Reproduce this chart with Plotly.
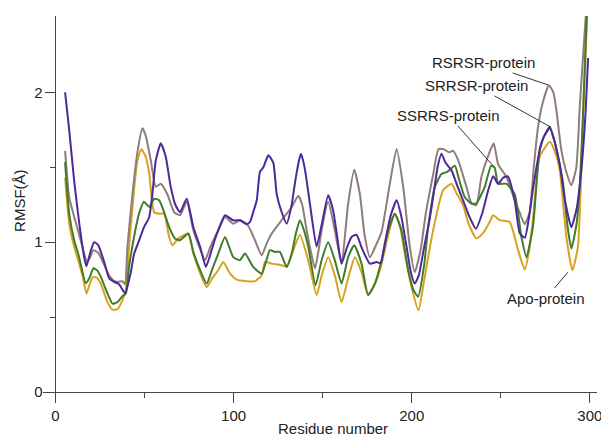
import plotly.graph_objects as go

# ---- data (residue number, RMSF in Angstrom) ----
res_apo = [5.4, 7.7, 10.5, 13.3, 15.5, 17.4, 19.5, 21.3, 23.5, 25.4, 29.2, 32, 34.8, 37.6, 39.5, 41.3,
           44.1, 46, 48.2, 50.7, 52.6, 55.4, 58.2, 61, 63.8, 65.7, 68.5, 71, 74.6, 77.4, 81, 84.9, 88,
           91.4, 94.2, 98, 101.7, 107.3, 112, 115.8, 117.6, 121.4, 127, 129.8, 133, 137.2, 141.9, 146.6,
           149.5, 153.1, 156.8, 160.6, 164.3, 168.1, 171.8, 175.5, 179.3, 183.1, 186.8, 190.5, 193.5,
           196.1, 199.9, 203.8, 207, 212, 217.6, 222.3, 225, 228.8, 232, 236.3, 240, 243.5, 245.7, 249.4,
           255, 259.7, 263.4, 266, 268, 271.8, 277.5, 280.5, 283.1, 286.8, 290.2, 293.3, 296.1, 298.8]
rmsf_apo = [1.43, 1.124, 0.97, 0.857, 0.76, 0.658, 0.73, 0.77, 0.76, 0.724, 0.60, 0.55, 0.553, 0.613, 0.68, 0.97,
            1.347, 1.547, 1.62, 1.57, 1.46, 1.20, 1.19, 1.19, 1.035, 0.98, 1.02, 1.04, 1.058, 0.924, 0.80, 0.70, 0.76,
            0.813, 0.868, 0.79, 0.75, 0.74, 0.74, 0.78, 0.868, 0.857, 0.846, 0.835, 0.93, 1.05, 0.88, 0.647,
            0.78, 0.90, 0.78, 0.60, 0.76, 0.90, 0.80, 0.647, 0.72, 0.857, 1.05, 1.19, 1.10,
            0.924, 0.70, 0.545, 0.75, 1.08, 1.347, 1.39, 1.33, 1.247, 1.12, 1.024, 1.06, 1.13, 1.18, 1.147,
            1.135, 0.947, 0.818, 0.95, 1.147, 1.57, 1.67, 1.60, 1.48, 1.035, 0.813, 0.97, 1.81, 2.6]

res_rsrsr = [5.4, 7.7, 10.5, 13.3, 16, 17.6, 19.5, 21.3, 24, 27.3, 30, 32.5, 35, 37.5, 39, 40.4, 43.2, 46,
             48.8, 50.7, 53.5, 56.3, 59.1, 62.8, 66.6, 69.9, 73.7, 77.4, 81, 84, 87, 91.4, 95.2, 99.8,
             103.5, 107.3, 109.5, 112, 115.8, 118.5, 121.4, 127, 132.6, 136.3, 138.5, 141, 143.5, 145.7,
             147.5, 149.4, 153.1, 156.8, 160.6, 164.3, 167.7, 170.9, 173.5, 176.5, 180.3, 183.1, 187.7,
             191.5, 195.2, 198.9, 201.7, 205, 208, 212, 215, 218, 221, 223.2, 226, 230.7, 233.5, 236.3, 239.1,
             243, 246, 248.5, 253.2, 257.8, 260.5, 263.4, 266.2, 268.5, 270.9, 273.5, 277, 279.5, 281.2,
             284, 286.5, 289.6, 292.4, 294.3, 296.5, 298.5]
rmsf_rsrsr = [1.61, 1.30, 1.17, 1.05, 0.93, 0.87, 0.90, 0.947, 0.93, 0.85, 0.78, 0.745, 0.735, 0.74, 0.72, 0.97, 1.32, 1.60,
              1.76, 1.71, 1.547, 1.37, 1.39, 1.32, 1.20, 1.18, 1.27, 1.08, 0.96, 0.88, 0.97, 1.08, 1.168, 1.124,
              1.146, 1.124, 1.08, 1.013, 0.913, 0.99, 1.058, 1.147, 1.235, 1.31, 1.25, 1.08, 0.93, 0.824,
              0.93, 1.08, 1.27, 1.08, 0.857, 1.257, 1.484, 1.32, 1.05, 0.90, 0.99, 1.07, 1.39,
              1.623, 1.37, 0.97, 0.80, 0.95, 1.20, 1.45, 1.62, 1.62, 1.60, 1.61, 1.55, 1.37, 1.26, 1.247, 1.435,
              1.58, 1.66, 1.52, 1.435, 1.28, 1.20, 1.12, 1.20, 1.50, 1.77, 1.93, 2.047, 2.00, 1.88,
              1.613, 1.48, 1.38, 1.50, 1.90, 2.3, 2.65]

res_srrsr = [5.4, 7.7, 10.5, 13.3, 16.1, 17.4, 19.5, 21.7, 24, 27.3, 30.1, 32.9, 35.7, 38.5, 39.3, 42.3,
             44.1, 46.9, 49.7, 52.6, 54.4, 56.3, 59.1, 61.9, 64.7, 67.3, 69.9, 73.7, 77.4, 81.2, 84.4, 86.5,
             89, 91.4, 95.2, 99.8, 103.5, 107.3, 109.2, 111, 113, 114.8, 116.7, 119.5, 122.3, 124.2, 127,
             129.8, 132.6, 134.5, 136.8, 137.8, 139.5, 141, 143.5, 146.6, 149.5, 153.1, 155.9, 158, 160.6,
             163.5, 166.2, 169, 172, 176.5, 180.3, 182.5, 185, 188, 191.5, 194, 197.1, 199.5, 201.7, 204,
             207, 210, 212, 214.5, 216.7, 219, 222.3, 225.5, 228.8, 232, 236, 239.5, 243, 245.7, 248.5,
             251.3, 254, 257.8, 260.6, 263.5, 266, 268, 271.8, 274, 277.5, 280, 283.1, 286, 289.6, 292.5,
             295.2, 297.5, 299]
rmsf_srrsr = [2.00, 1.75, 1.41, 1.13, 0.90, 0.84, 0.93, 1.00, 0.98, 0.87, 0.76, 0.735, 0.72, 0.667, 0.66, 0.80,
              0.92, 1.01, 1.10, 1.167, 1.32, 1.545, 1.66, 1.57, 1.37, 1.25, 1.20, 1.29, 1.10, 0.97, 0.835, 0.90,
              1.00, 1.08, 1.18, 1.146, 1.146, 1.12, 1.135, 1.20, 1.28, 1.47, 1.50, 1.58, 1.53, 1.32, 1.20,
              1.124, 1.25, 1.40, 1.55, 1.59, 1.52, 1.413, 1.20, 0.97, 1.12, 1.313, 1.21, 1.05, 0.857,
              0.96, 1.035, 1.05, 0.96, 0.857, 0.868, 0.86, 1.00, 1.17, 1.28, 1.18, 0.97, 0.80, 0.724, 0.78,
              0.97, 1.15, 1.30, 1.50, 1.59, 1.53, 1.48, 1.38, 1.28, 1.18, 1.09, 1.19, 1.35, 1.44, 1.39,
              1.43, 1.44, 1.28, 1.06, 1.03, 1.18, 1.35, 1.61, 1.70, 1.77, 1.68, 1.52, 1.28, 1.10, 1.22,
              1.48, 1.85, 2.23]

res_ssrrs = [5.4, 7.7, 10.5, 13.3, 17, 19, 21.3, 23.5, 25.4, 29.2, 32, 34.8, 37.6, 39.5, 41.3, 44.1, 46.9,
             49.7, 52.6, 55.4, 58.2, 61, 63.8, 67.1, 69.9, 74.6, 77.4, 81, 84.9, 88, 91.4, 95.2, 99.8, 103.5,
             106.4, 111, 115.8, 120.4, 123.2, 126, 129.8, 132.6, 135, 137.2, 139.5, 141.9, 146, 149.4, 153.1,
             156.8, 160.6, 164.3, 167.7, 171.8, 175.5, 179.3, 183.1, 186.8, 190.5, 194.2, 198, 201, 203.6,
             207, 209.2, 213, 216.7, 220, 224.2, 226.5, 229.8, 233.5, 236.3, 241, 244.5, 246.5, 248.5, 253.2,
             257.8, 261.6, 264.4, 268.1, 271.8, 274, 277.5, 280, 282.5, 284.9, 287.5, 289.6, 292.5, 294.3,
             296, 298.5]
rmsf_ssrrs = [1.535, 1.19, 1.013, 0.90, 0.727, 0.76, 0.826, 0.81, 0.77, 0.658, 0.59, 0.60, 0.64, 0.658, 0.835, 1.035, 1.19,
              1.27, 1.235, 1.29, 1.28, 1.20, 1.10, 1.024, 1.013, 1.058, 0.935, 0.82, 0.724, 0.82, 0.924, 1.035, 0.90, 0.88,
              0.924, 0.835, 0.79, 0.947, 0.935, 0.935, 0.835, 0.924, 1.06, 1.147, 1.08, 0.97, 0.713, 0.88, 1.00,
              0.88, 0.724, 0.90, 0.98, 0.857, 0.647, 0.724, 0.88, 1.08, 1.19, 1.08, 0.813, 0.68, 0.636,
              0.85, 1.10, 1.37, 1.456, 1.47, 1.51, 1.42, 1.30, 1.258, 1.26, 1.37, 1.51, 1.50, 1.39, 1.39,
              1.32, 1.033, 0.90, 1.11, 1.62, 1.70, 1.76, 1.68, 1.55, 1.40, 1.10, 0.957, 1.12, 1.37,
              1.81, 2.6]

series_names = ["Apo-protein", "RSRSR-protein", "SSRRS-protein", "SRRSR-protein"]
series_colors = ["#D9A21E", "#8E7D7B", "#3F7C2C", "#4C2A99"]

x_ticks = [0, 100, 200, 300]
x_minor = [50, 150, 250]
y_ticks = [0, 1, 2]
y_minor = [0.5, 1.5]
x_title = "Residue number"
y_title = "RMSF(Å)"

# label -> point (residue, RMSF) it points to, and pixel offset of the text
labels = [
    ("RSRSR-protein", 276.5, 2.05, -65, -22),
    ("SRRSR-protein", 277.8, 1.77, -74, -41),
    ("SSRRS-protein", 245.6, 1.51, -44, -50),
    ("Apo-protein", 287.7, 0.80, -22, 26),
]

FONT = "Liberation Sans, Arial, Helvetica, sans-serif"
AX = "#444444"

fig = go.Figure()
for name, xs, ys, col in [
    (series_names[0], res_apo, rmsf_apo, series_colors[0]),
    (series_names[1], res_rsrsr, rmsf_rsrsr, series_colors[1]),
    (series_names[2], res_ssrrs, rmsf_ssrrs, series_colors[2]),
    (series_names[3], res_srrsr, rmsf_srrsr, series_colors[3]),
]:
    fig.add_trace(go.Scatter(x=xs, y=ys, mode="lines", name=name,
                             line=dict(color=col, width=2, shape="spline", smoothing=0.5),
                             hoverinfo="x+y+name"))

x_range = [-7, 304]
y_range = [-0.04, 2.51]

# the page body adds an 8px offset at top-left, so the figure is 8px smaller
fig.update_layout(
    width=601, height=429,
    margin=dict(l=35, r=12, t=8, b=39, autoexpand=False),
    plot_bgcolor="white", paper_bgcolor="white",
    showlegend=False,
    font=dict(family=FONT, size=15, color="#222222"),
)
common = dict(showline=True, linecolor=AX, linewidth=1,
              ticks="outside", ticklen=10, tickwidth=1, tickcolor=AX,
              showgrid=False, zeroline=False, automargin=False,
              ticklabeloverflow="allow", tickfont=dict(size=15))
fig.update_xaxes(
    range=x_range, anchor="free",
    position=(0 - y_range[0]) / (y_range[1] - y_range[0]),
    tickvals=x_ticks, ticktext=[str(v) for v in x_ticks],
    minor=dict(tickvals=x_minor, ticks="outside", ticklen=5, tickcolor=AX, tickwidth=1, showgrid=False),
    **common,
)
fig.update_yaxes(
    range=y_range, anchor="free",
    position=(0 - x_range[0]) / (x_range[1] - x_range[0]),
    tickvals=y_ticks, ticktext=[str(v) for v in y_ticks],
    minor=dict(tickvals=y_minor, ticks="outside", ticklen=5, tickcolor=AX, tickwidth=1, showgrid=False),
    **common,
)

# axis titles
fig.add_annotation(text=x_title, xref="paper", yref="paper", x=0.523, y=0,
                   xanchor="center", yanchor="middle", yshift=-30, showarrow=False,
                   font=dict(family=FONT, size=15, color="#222222"))
fig.add_annotation(text=y_title, xref="paper", yref="paper", x=0, y=0.516,
                   xanchor="center", yanchor="middle", xshift=-23, textangle=-90,
                   showarrow=False, font=dict(family=FONT, size=15, color="#222222"))

for text, rx, ry, dx, dy in labels:
    fig.add_annotation(x=rx, y=ry, text=text, showarrow=True, arrowhead=0,
                       arrowwidth=1, arrowcolor="#333333", ax=dx, ay=dy, standoff=0,
                       font=dict(family=FONT, size=15, color="#222222"))

fig.write_html("out.html")
